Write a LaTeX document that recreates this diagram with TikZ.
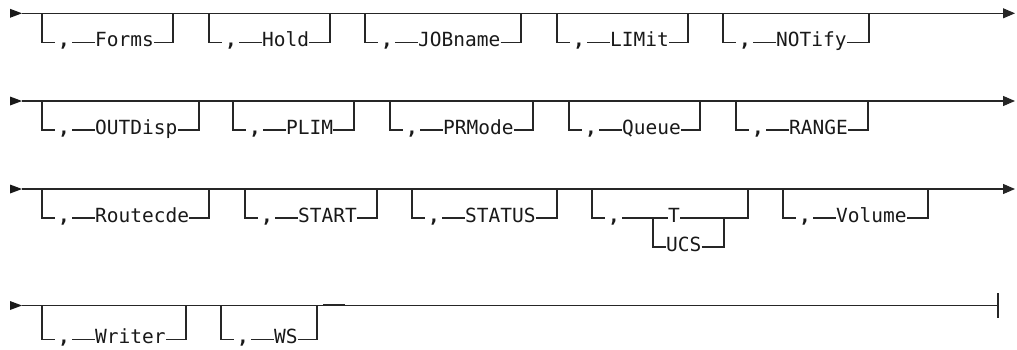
\documentclass[tikz,border=0pt]{standalone}
\usepackage{fontspec}
\newfontfamily\railfont{DejaVu Sans Mono}
\usetikzlibrary{arrows.meta,calc}
\tikzset{
  rail/.style={line width=1.1pt, draw=black!85},
  lab/.style={font=\railfont\fontsize{19.5}{21}\selectfont, inner sep=0pt, text=black!90},
  commalab/.style={lab, font=\railfont\bfseries\fontsize{19.5}{21}\selectfont},
  tipfill/.style={fill=black!90, draw=none},
  endarrow/.style={-{Triangle[length=12pt,width=10pt]}},
}
% #1 name, #2 left x, #3 right x, #4 main-line y, #5 label, #6 drop
\newcommand\railoptd[6]{%
  \coordinate (#1a) at (#2,#4);
  \coordinate (#1b) at (#3,#4);
  \coordinate (#1c) at (#2,#4-#6);
  \coordinate (#1d) at (#3,#4-#6);
  \node[commalab,anchor=base] (#1k) at (#2+22,#4-#6-4.3) {,};
  \node[lab,anchor=base west] (#1t) at (#2+53,#4-#6-4.3) {#5};
  \draw[rail] (#1a) -- (#1c) -- ($(#1c)+(13,0)$);
  \draw[rail] ($(#1c)+(30,0)$) -- (#1t.west |- #1c);
  \draw[rail] (#1t.east |- #1c) -- (#1d) -- (#1b);
}
\newcommand\railopt[5]{\railoptd{#1}{#2}{#3}{#4}{#5}{29}}
% start marker: #1 name, #2 y
\newcommand\railstart[2]{%
  \coordinate (#1) at (22,#2);
  \fill[tipfill] (10,#2+4.5) -- (#1) -- (10,#2-4.5) -- cycle;
}
\begin{document}
\begin{tikzpicture}[x=1pt,y=1pt]
\useasboundingbox (0,0) rectangle (1017,349);
\def\ra{335.7}
\def\rb{248}
\def\rc{160}
\def\rd{43.5}
% Row 1
\railstart{s1}{\ra}
\coordinate (e1) at (1015,\ra);
\draw[rail,endarrow] (s1) -- (e1);
\railopt{forms}{42}{173}{\ra}{Forms}
\railopt{hold}{209}{330}{\ra}{Hold}
\railopt{job}{365}{521}{\ra}{JOBname}
\railopt{lim}{557}{688}{\ra}{LIMit}
\railopt{notify}{723}{869}{\ra}{NOTify}
% Row 2
\railstart{s2}{\rb}
\coordinate (e2) at (1015,\rb);
\draw[rail,endarrow] (s2) -- (e2);
\railopt{outd}{42}{199}{\rb}{OUTDisp}
\railopt{plim}{233}{354}{\rb}{PLIM}
\railopt{prm}{390}{533}{\rb}{PRMode}
\railopt{queue}{569}{700}{\rb}{Queue}
\railopt{range}{736}{868}{\rb}{RANGE}
% Row 3
\railstart{s3}{\rc}
\coordinate (e3) at (1015,\rc);
\draw[rail,endarrow] (s3) -- (e3);
\railopt{route}{42}{209}{\rc}{Routecde}
\railopt{start}{245}{377}{\rc}{START}
\railopt{status}{412}{557}{\rc}{STATUS}
% T / UCS group
\coordinate (ga) at (592,\rc);
\coordinate (gb) at (748,\rc);
\coordinate (gc) at (592,\rc-29);
\coordinate (gd) at (748,\rc-29);
\coordinate (bi) at (653,\rc-29);
\coordinate (bo) at (724,\rc-29);
\node[commalab,anchor=base] (gk) at (614,\rc-33.3) {,};
\node[lab,anchor=base west] (tt) at (668,\rc-33.3) {T};
\node[lab,anchor=base west] (ucs) at (666,\rc-62.3) {UCS};
\draw[rail] (ga) -- (gc) -- ($(gc)+(13,0)$);
\draw[rail] ($(gc)+(30,0)$) -- (tt.west |- gc);
\draw[rail] (tt.east |- gc) -- (gd) -- (gb);
\draw[rail] (bi) |- (ucs.west |- 0,\rc-58);
\draw[rail] (ucs.east |- 0,\rc-58) -| (bo);
\railopt{vol}{783}{928}{\rc}{Volume}
% Row 4
\railstart{s4}{\rd}
\coordinate (e4) at (998,\rd);
\draw[rail] (s4) -- (e4);
\draw[rail] (998,\rd+12.5) -- (998,\rd-12.5);
\railoptd{writer}{42}{186}{\rd}{Writer}{34}
\railoptd{ws}{221}{317}{\rd}{WS}{34}
\coordinate (m1) at (323,\rd+1.2);
\coordinate (m2) at (345,\rd+1.2);
\draw[rail] (m1) -- (m2);
\end{tikzpicture}
\end{document}
